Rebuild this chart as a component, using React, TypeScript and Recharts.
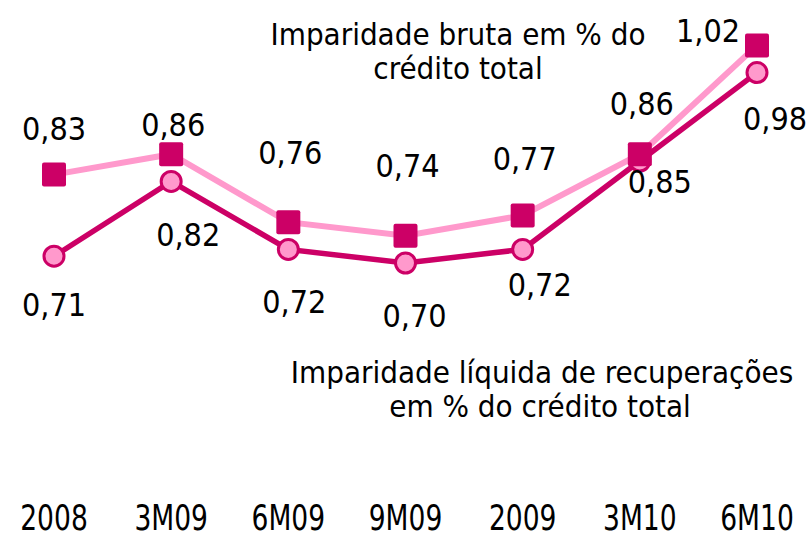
import { LineChart, Line, XAxis, YAxis, LabelList, Customized } from "recharts";

const categories = ["2008", "3M09", "6M09", "9M09", "2009", "3M10", "6M10"];
const imparidadeBruta = [0.83, 0.86, 0.76, 0.74, 0.77, 0.86, 1.02];
const imparidadeLiquida = [0.71, 0.82, 0.72, 0.7, 0.72, 0.85, 0.98];

const data = categories.map((cat, i) => ({
  cat,
  bruta: imparidadeBruta[i],
  liquida: imparidadeLiquida[i],
}));

// where each value label sits relative to its marker (dx, dy)
const brutaLabelPos = [[0, -46], [2, -29], [2, -69], [2, -70], [2, -56], [2, -50], [-49, -14]];
const liquidaLabelPos = [[0, 49], [17, 54], [6, 53], [9, 53], [17, 36], [20, 21], [18, 46]];

const DARK = "#CC0066";
const LIGHT = "#FF99CC";
const FONT = "'DejaVu Sans Condensed', 'DejaVu Sans', sans-serif";

const fmt = (v: number) => v.toFixed(2).replace(".", ",");

function makeLabel(pos: number[][]) {
  return (p: any) => {
    const [dx, dy] = pos[p.index] ?? [0, 0];
    return (
      <text
        x={p.x + dx}
        y={p.y + dy}
        textAnchor="middle"
        dominantBaseline="central"
        fontFamily={FONT}
        fontSize={32}
        fill="#000"
      >
        {fmt(Number(p.value))}
      </text>
    );
  };
}

const SquareDot = (p: any) => (
  <rect key={p.index} x={p.cx - 12} y={p.cy - 12} width={24} height={24} rx={2} fill={DARK} />
);

const AxisTick = (p: any) => (
  <text
    transform={`translate(${p.x},${p.y + 123}) scale(0.82,1)`}
    textAnchor="middle"
    fontFamily={FONT}
    fontSize={36}
    fill="#000"
  >
    {p.payload.value}
  </text>
);

const Notes = () => (
  <g fontFamily={FONT} fontSize={31} fill="#000" textAnchor="middle">
    <text x={458} y={45}>Imparidade bruta em % do</text>
    <text x={458} y={79}>crédito total</text>
    <text x={542} y={383}>Imparidade líquida de recuperações</text>
    <text x={540} y={417}>em % do crédito total</text>
  </g>
);

export default function App() {
  return (
    <div style={{ position: "absolute", left: 0, top: 0, background: "#fff" }}>
      <LineChart
        width={810}
        height={540}
        data={data}
        margin={{ top: 25, right: 53, bottom: 0, left: 54 }}
      >
        <XAxis dataKey="cat" axisLine={false} tickLine={false} height={141} tick={AxisTick} interval={0} />
        <YAxis hide domain={[0.5, 1.05]} />
        <Customized component={Notes} />
        {/* light line first, then the dark one, squares drawn last so they sit on top */}
        <Line dataKey="bruta" stroke={LIGHT} strokeWidth={6} dot={false} isAnimationActive={false} />
        <Line
          dataKey="liquida"
          stroke={DARK}
          strokeWidth={5.5}
          dot={{ r: 10, fill: LIGHT, stroke: DARK, strokeWidth: 3 }}
          isAnimationActive={false}
        >
          <LabelList dataKey="liquida" content={makeLabel(liquidaLabelPos)} />
        </Line>
        <Line
          dataKey="bruta"
          stroke="none"
          dot={SquareDot}
          activeDot={false}
          legendType="none"
          isAnimationActive={false}
        >
          <LabelList dataKey="bruta" content={makeLabel(brutaLabelPos)} />
        </Line>
      </LineChart>
    </div>
  );
}
